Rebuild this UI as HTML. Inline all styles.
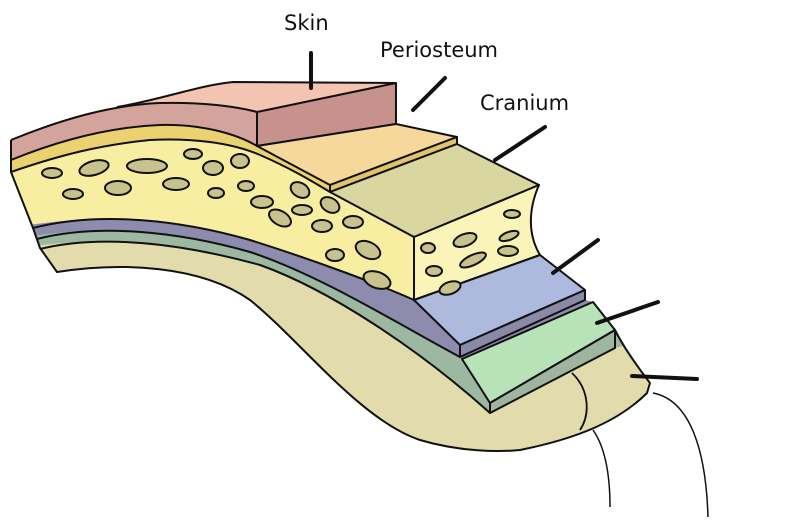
<!DOCTYPE html>
<html><head><style>
html,body{margin:0;padding:0;background:#fff;width:812px;height:526px;overflow:hidden}
text{font-family:"DejaVu Sans","Liberation Sans",sans-serif;font-size:21px;fill:#111}
</style></head><body>
<svg width="812" height="526" viewBox="0 0 812 526" xmlns="http://www.w3.org/2000/svg" stroke="#111" stroke-width="2" stroke-linejoin="round">
<defs>
<clipPath id="sil"><path d="M11,140 C50,124 90,110 117,107 C160,100 200,85 233,82 L396,83 L396,124 L457,137 L457,144 L539,185 C528,210 528,235 540,255 L585,290 L585,300 L593,302 L615,330 C625,350 640,370 650,383 L647,393 C620,420 580,438 520,450 C500,452 460,452 420,440 C360,420 300,340 250,300 C200,265 120,262 57,272 L40,248 L33,228 L11,172 Z"/></clipPath>
</defs>
<g clip-path="url(#sil)" stroke="none">
<rect x="0" y="0" width="812" height="526" fill="#f3c4b2"/>
<path d="M0,144 C60,120 110,105 160,103 C200,102 235,106 257,112 L800,112 L800,526 L0,526 Z" fill="#d4a49c"/>
<path d="M0,164 C60,140 110,127 160,125 C200,124 235,133 257,146 L330,185 L800,185 L800,526 L0,526 Z" fill="#ecd170"/>
<path d="M0,176 C60,155 100,145 150,140 C190,138 230,142 260,155 C290,168 310,180 330,192 L800,192 L800,526 L0,526 Z" fill="#f8eea2"/>
<path d="M0,230 C100,210 180,220 250,240 C320,262 380,285 414,300 L460,345 L585,290 L800,250 L800,526 L0,526 Z" fill="#8d8cae"/>
<path d="M0,241 C100,222 180,232 250,252 C320,275 400,325 460,357 L490,403 L615,330 L800,290 L800,526 L0,526 Z" fill="#9db8a0"/>
<path d="M0,251 C100,233 180,243 260,265 C330,290 420,350 490,413 L615,348 L800,300 L800,526 L0,526 Z" fill="#e2dcad"/>
</g>
<g fill="none">
<path d="M11,140 C60,120 110,105 160,103 C200,102 235,106 257,112"/>
<path d="M11,160 C60,140 110,127 160,125 C200,124 235,133 257,146"/>
<path d="M11,172 C60,155 100,145 150,140 C190,138 230,142 260,155 C290,168 310,180 330,192"/>
<path d="M33,228 C100,211 180,220 250,240 C320,262 380,285 414,300"/>
<path d="M37,239 C100,223 180,232 250,252 C320,275 400,325 460,357"/>
<path d="M40,249 C100,234 180,243 260,265 C330,290 420,350 490,413"/>
<path d="M117,107 C160,100 200,85 233,82 L396,83 M11,140 L11,172 L33,228 L40,248 L57,272 C120,262 200,265 250,300 C300,340 360,420 420,440 C460,452 500,452 520,450 C580,438 620,420 647,393 L650,383 C640,370 625,350 615,330"/>
</g>
<!-- blocks -->
<polygon points="257,112 396,83 396,124 257,146" fill="#c7928c"/>
<polygon points="257,146 396,124 457,137 330,185" fill="#f6d89c"/>
<polygon points="330,185 457,137 457,144 330,192" fill="#e2c26a"/>
<polygon points="330,192 457,144 539,185 414,237" fill="#d9d69f"/>
<path d="M414,237 L539,185 C528,210 528,235 540,255 L414,300 Z" fill="#fbf4b8"/>
<polygon points="414,300 540,255 585,290 460,345" fill="#adbadd"/>
<polygon points="460,345 585,290 585,300 460,357" fill="#8a89a8"/>
<polygon points="462,359 593,302 615,330 490,403" fill="#b8e3b8"/>
<polygon points="490,403 615,330 615,348 490,413" fill="#9fb59f"/>
<path d="M572,373 C590,390 590,415 580,430" fill="none" stroke-width="1.8"/>
<path d="M593,430 C607,450 610,480 610,507" fill="none" stroke-width="1.5"/>
<path d="M653,393 C690,400 706,450 708,517" fill="none" stroke-width="1.5"/>
<!-- spots -->
<g fill="#c8c38e" stroke-width="2">
<ellipse cx="52" cy="173" rx="10" ry="5"/><ellipse cx="94" cy="168" rx="15" ry="7" transform="rotate(-15 94 168)"/>
<ellipse cx="147" cy="166" rx="20" ry="7"/><ellipse cx="193" cy="154" rx="9" ry="5"/>
<ellipse cx="73" cy="194" rx="10" ry="5"/><ellipse cx="118" cy="188" rx="13" ry="7"/>
<ellipse cx="176" cy="184" rx="13" ry="6"/><ellipse cx="213" cy="168" rx="10" ry="7"/>
<ellipse cx="240" cy="161" rx="9" ry="7"/><ellipse cx="216" cy="193" rx="8" ry="5"/>
<ellipse cx="262" cy="202" rx="11" ry="6"/><ellipse cx="246" cy="186" rx="8" ry="5"/>
<ellipse cx="280" cy="218" rx="12" ry="7" transform="rotate(30 280 218)"/>
<ellipse cx="302" cy="210" rx="10" ry="5"/><ellipse cx="300" cy="190" rx="10" ry="7" transform="rotate(30 300 190)"/>
<ellipse cx="330" cy="205" rx="10" ry="7" transform="rotate(30 330 205)"/>
<ellipse cx="322" cy="226" rx="10" ry="6"/><ellipse cx="353" cy="222" rx="10" ry="6"/>
<ellipse cx="335" cy="255" rx="9" ry="6"/><ellipse cx="368" cy="250" rx="13" ry="8" transform="rotate(25 368 250)"/>
<ellipse cx="377" cy="280" rx="14" ry="8" transform="rotate(20 377 280)"/>
<ellipse cx="428" cy="248" rx="7" ry="5"/><ellipse cx="465" cy="240" rx="12" ry="6" transform="rotate(-20 465 240)"/>
<ellipse cx="512" cy="214" rx="8" ry="4"/><ellipse cx="509" cy="236" rx="10" ry="4" transform="rotate(-20 509 236)"/>
<ellipse cx="434" cy="271" rx="8" ry="5"/><ellipse cx="473" cy="260" rx="14" ry="5" transform="rotate(-25 473 260)"/>
<ellipse cx="508" cy="251" rx="10" ry="5"/><ellipse cx="450" cy="288" rx="11" ry="6" transform="rotate(-20 450 288)"/>
</g>
<!-- leaders -->
<g stroke-width="4" stroke-linecap="round">
<line x1="311" y1="53" x2="311" y2="88"/><line x1="445" y1="78" x2="413" y2="110"/>
<line x1="545" y1="127" x2="495" y2="160"/><line x1="598" y1="240" x2="553" y2="273"/>
<line x1="658" y1="302" x2="597" y2="323"/><line x1="697" y1="379" x2="632" y2="376"/>
</g>
<text x="284" y="30" stroke="none">Skin</text>
<text x="380" y="57" stroke="none">Periosteum</text>
<text x="480" y="110" stroke="none">Cranium</text>
</svg>
</body></html>
